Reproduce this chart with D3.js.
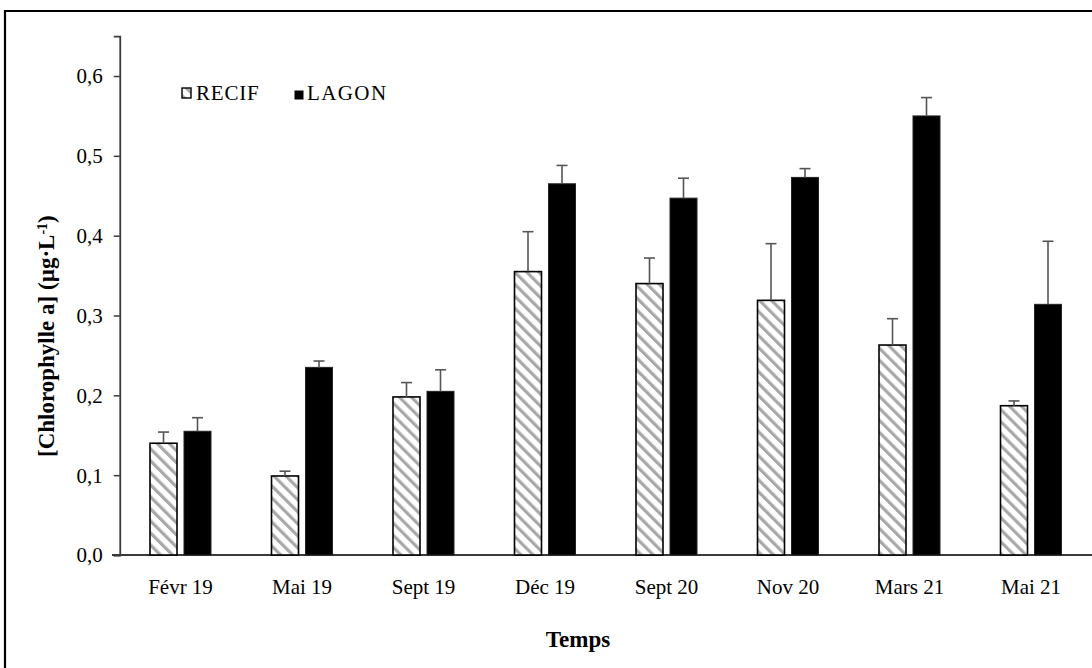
<!DOCTYPE html>
<html><head><meta charset="utf-8">
<script src="https://cdn.jsdelivr.net/npm/d3@7"></script>
<style>body{margin:0;background:#fff}svg{display:block}text{font-family:"Liberation Serif","Times New Roman",serif;fill:#000}</style>
</head><body>
<script>
const categories = ["Févr 19","Mai 19","Sept 19","Déc 19","Sept 20","Nov 20","Mars 21","Mai 21"];
const series = ["RECIF","LAGON"];
const recif = [0.140,0.099,0.198,0.355,0.340,0.319,0.263,0.187];
const recifErr = [0.014,0.006,0.018,0.050,0.032,0.071,0.033,0.006];
const lagon = [0.155,0.235,0.205,0.465,0.447,0.473,0.550,0.314];
const lagonErr = [0.017,0.008,0.027,0.023,0.025,0.011,0.023,0.079];
const yTicks = [0,0.1,0.2,0.3,0.4,0.5,0.6];

const W=1092,H=668;
const SERIF='"Liberation Serif","Times New Roman",serif';
const svg=d3.select("body").append("svg").attr("width",W).attr("height",H);
const defs=svg.append("defs");
const pat=defs.append("pattern").attr("id","hatch").attr("patternUnits","userSpaceOnUse")
  .attr("width",8.5).attr("height",8.5).attr("patternTransform","rotate(-45)");
pat.append("rect").attr("width",8.5).attr("height",8.5).attr("fill","#fff");
pat.append("rect").attr("x",0).attr("width",3.2).attr("height",8.5).attr("fill","#a8a8a8");

// frame
svg.append("path").attr("d",`M5,${H+5} V11 H${W+5}`).attr("fill","none").attr("stroke","#000").attr("stroke-width",2.2);

const x0=119.75, x1=1091.75, yBase=555;
const x=d3.scaleBand().domain(categories).range([x0,x1]).padding(0);
const y=d3.scaleLinear().domain([0,0.65]).range([yBase,yBase-0.65*798.3]);

const g=svg.append("g");
g.append("line").attr("x1",112).attr("x2",W).attr("y1",yBase).attr("y2",yBase).attr("stroke","#3a3a3a").attr("stroke-width",1.8);
const ya=g.append("g").attr("transform",`translate(${x0},0)`).attr("font-family",SERIF)
  .call(d3.axisLeft(y).tickValues(yTicks).tickSize(6).tickPadding(11).tickFormat(d=>d3.format(".1f")(d).replace(".",",")));
ya.attr("font-family",SERIF);
ya.select(".domain").attr("stroke","#3a3a3a").attr("stroke-width",1.8);
ya.selectAll(".tick line").attr("stroke","#3a3a3a").attr("stroke-width",1.5);
ya.selectAll(".tick text").attr("font-size",21).style("font-family",SERIF).attr("fill","#000").attr("dy","0.33em");
const xa=g.append("g").attr("transform",`translate(0,${yBase})`).call(d3.axisBottom(x).tickSize(0).tickPadding(24));
xa.attr("font-family",SERIF);
xa.select(".domain").remove();
xa.selectAll(".tick text").attr("font-size",21).style("font-family",SERIF).attr("fill","#000");

const bw=27, gap=3.5;
const cx=c=>x(c)+x.bandwidth()/2;
g.selectAll(".r").data(categories).join("rect").attr("class","r")
 .attr("x",c=>cx(c)-gap-bw).attr("width",bw)
 .attr("y",(c,i)=>y(recif[i])).attr("height",(c,i)=>yBase-y(recif[i]))
 .attr("fill","url(#hatch)").attr("stroke","#000").attr("stroke-width",1.6);
g.selectAll(".l").data(categories).join("rect").attr("class","l")
 .attr("x",c=>cx(c)+gap).attr("width",bw)
 .attr("y",(c,i)=>y(lagon[i])).attr("height",(c,i)=>yBase-y(lagon[i]))
 .attr("fill","#000").attr("stroke","#222").attr("stroke-width",1);
function err(vals,errs,off){
  categories.forEach((c,i)=>{
    const xc=cx(c)+off, top=y(vals[i]+errs[i]);
    g.append("line").attr("x1",xc).attr("x2",xc).attr("y1",y(vals[i])).attr("y2",top).attr("stroke","#555").attr("stroke-width",1.6);
    g.append("line").attr("x1",xc-5.5).attr("x2",xc+5.5).attr("y1",top).attr("y2",top).attr("stroke","#555").attr("stroke-width",1.6);
  });
}
err(recif,recifErr,-gap-bw/2);
err(lagon,lagonErr,gap+bw/2);

// legend
const lg=svg.append("g");
lg.append("rect").attr("x",182).attr("y",88).attr("width",9).attr("height",10).attr("fill","url(#hatch)").attr("stroke","#000").attr("stroke-width",1.4);
lg.append("text").attr("x",196).attr("y",100).attr("font-size",21).style("font-family",SERIF).attr("letter-spacing",0.8).text(series[0]);
lg.append("rect").attr("x",294.5).attr("y",90.5).attr("width",9).attr("height",9).attr("fill","#000");
lg.append("text").attr("x",307).attr("y",100).attr("font-size",21).style("font-family",SERIF).attr("letter-spacing",1.4).text(series[1]);

// axis titles
svg.append("text").attr("x",578).attr("y",647).attr("text-anchor","middle").attr("font-size",23).attr("font-weight","bold").style("font-family",SERIF).text("Temps");
const yt=svg.append("text").attr("transform","translate(54,457) rotate(-90)").attr("text-anchor","start").attr("font-size",23).attr("font-weight","bold").style("font-family",SERIF);
yt.append("tspan").text("[Chlorophylle a] (µg·L");
yt.append("tspan").attr("baseline-shift","super").attr("font-size",14).text("-1");
yt.append("tspan").text(")");
</script>
</body></html>
